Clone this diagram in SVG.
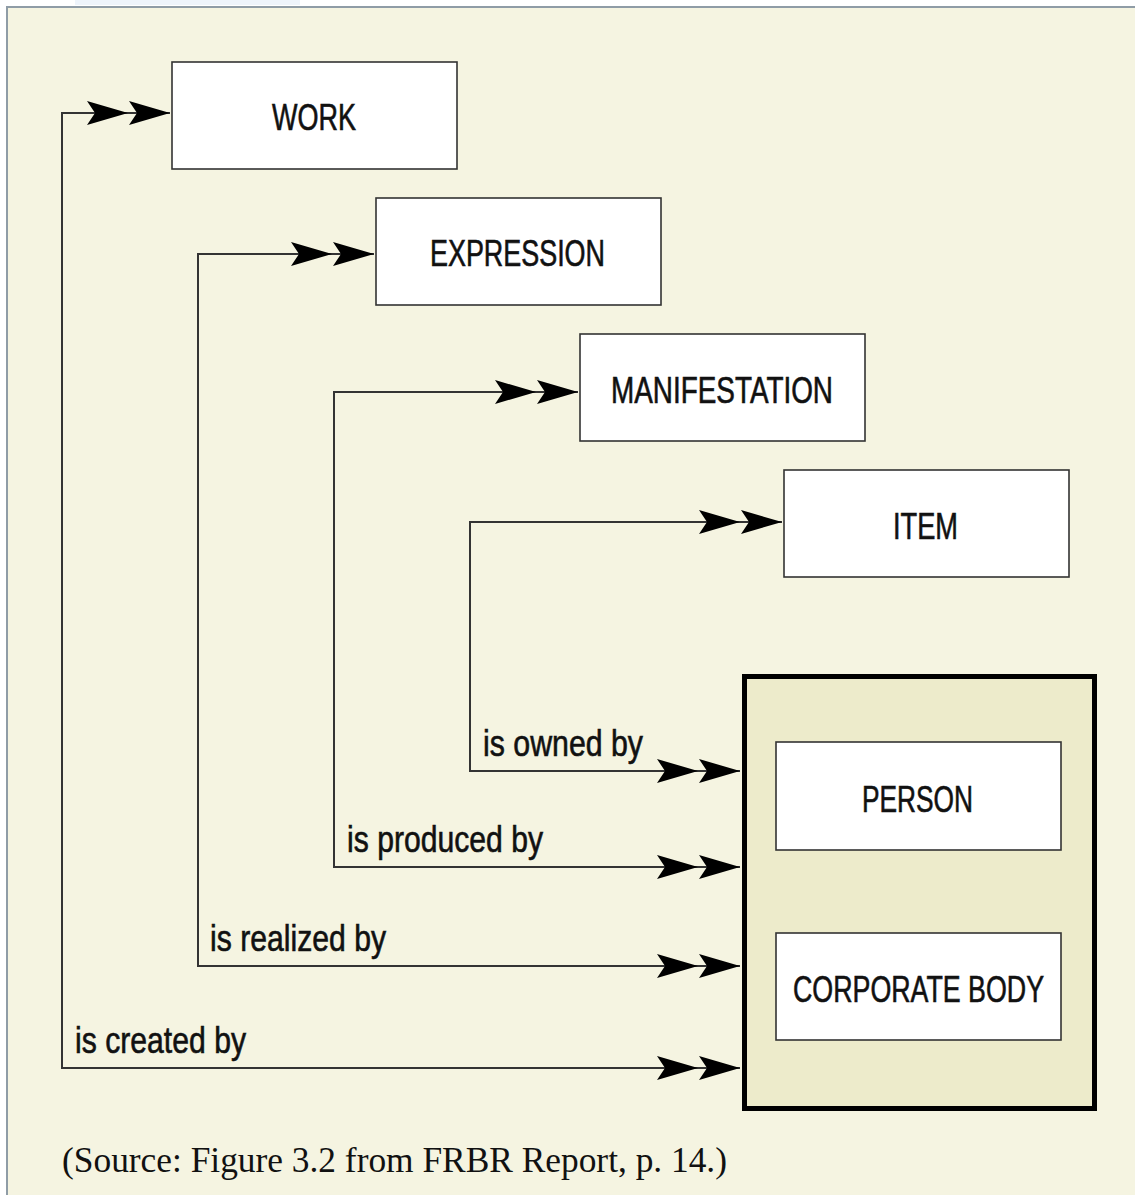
<svg xmlns="http://www.w3.org/2000/svg" width="1135" height="1195" viewBox="0 0 1135 1195">
  <defs>
    <style>
      .box { fill: #ffffff; stroke: #333333; stroke-width: 1.6; }
      .lbl { font-family: "Liberation Sans", Arial, sans-serif; font-size: 36px; fill: #111111; stroke: #111111; stroke-width: 0.6; }
      .conn { fill: none; stroke: #333333; stroke-width: 2; marker-start: url(#dbl); marker-end: url(#dbl); }
    </style>
    <marker id="dbl" markerUnits="userSpaceOnUse" orient="auto-start-reverse" refX="0" refY="0" markerWidth="100" markerHeight="30" viewBox="-90 -15 100 30" overflow="visible">
      <path d="M0,0 L-41,-12 L-33,0 L-41,12 Z M-42,0 L-83,-12 L-75,0 L-83,12 Z" fill="#000000"/>
    </marker>
  </defs>

  <rect x="0" y="0" width="1135" height="1195" fill="#ffffff"/>
  <rect x="75" y="0" width="225" height="5" fill="#eef4fb"/>
  <rect x="7" y="7" width="1140" height="1200" fill="#f5f4e1" stroke="#8f9ca6" stroke-width="2"/>

  <g id="connectors">
    <path class="conn" d="M170,113 H62 V1068 H740"/>
    <path class="conn" d="M374,254 H198 V966 H740"/>
    <path class="conn" d="M578,392 H334 V867 H740"/>
    <path class="conn" d="M782,522 H470 V771 H740"/>
  </g>

  <g id="label-owned"><text class="lbl" x="483" y="756" textLength="160" lengthAdjust="spacingAndGlyphs">is owned by</text></g>
  <g id="label-produced"><text class="lbl" x="347" y="852" textLength="196" lengthAdjust="spacingAndGlyphs">is produced by</text></g>
  <g id="label-realized"><text class="lbl" x="210" y="951" textLength="176" lengthAdjust="spacingAndGlyphs">is realized by</text></g>
  <g id="label-created"><text class="lbl" x="75" y="1053" textLength="171" lengthAdjust="spacingAndGlyphs">is created by</text></g>

  <g id="work">
    <rect class="box" x="172" y="62" width="285" height="107"/>
    <text class="lbl" x="272" y="130" textLength="84" lengthAdjust="spacingAndGlyphs">WORK</text>
  </g>
  <g id="expression">
    <rect class="box" x="376" y="198" width="285" height="107"/>
    <text class="lbl" x="430" y="266" textLength="175" lengthAdjust="spacingAndGlyphs">EXPRESSION</text>
  </g>
  <g id="manifestation">
    <rect class="box" x="580" y="334" width="285" height="107"/>
    <text class="lbl" x="611" y="403" textLength="222" lengthAdjust="spacingAndGlyphs">MANIFESTATION</text>
  </g>
  <g id="item">
    <rect class="box" x="784" y="470" width="285" height="107"/>
    <text class="lbl" x="893" y="539" textLength="65" lengthAdjust="spacingAndGlyphs">ITEM</text>
  </g>

  <g id="responsible-entities">
    <rect x="744.5" y="676.5" width="350" height="432" fill="#edebcb" stroke="#000000" stroke-width="5"/>
    <g id="person">
      <rect class="box" x="776" y="742" width="285" height="108"/>
      <text class="lbl" x="862" y="812" textLength="111" lengthAdjust="spacingAndGlyphs">PERSON</text>
    </g>
    <g id="corporate-body">
      <rect class="box" x="776" y="933" width="285" height="107"/>
      <text class="lbl" x="793" y="1002" textLength="251" lengthAdjust="spacingAndGlyphs">CORPORATE BODY</text>
    </g>
  </g>

  <text x="62" y="1172" font-family="'Liberation Serif', 'Times New Roman', serif" font-size="35" fill="#111111" textLength="665" lengthAdjust="spacingAndGlyphs">(Source: Figure 3.2 from FRBR Report, p. 14.)</text>
</svg>
